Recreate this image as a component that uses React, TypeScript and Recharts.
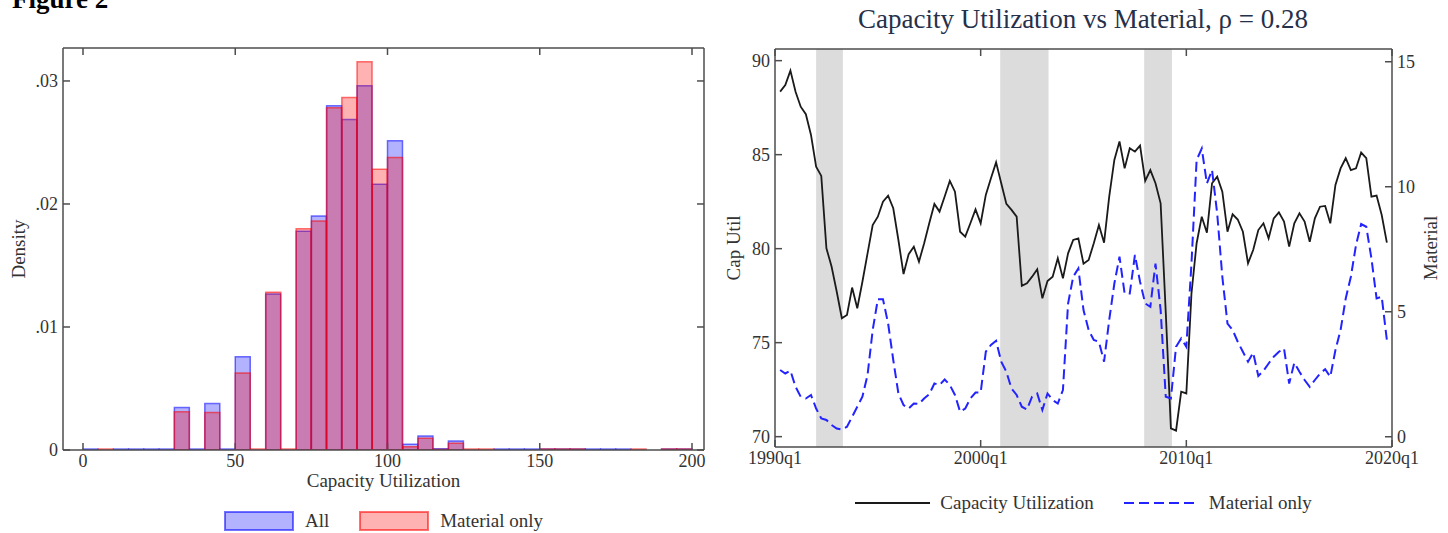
import React from 'react';
import {
  ComposedChart,
  Bar,
  Line,
  XAxis,
  YAxis,
  ReferenceArea,
  Legend,
} from 'recharts';

const FONT = '"Liberation Serif", "Times New Roman", serif';
const FRAME = '#4d4d4d';
const TEXT = '#333333';

// ---- left panel: histogram of capacity utilization (bins of width 5)
const binStart = [
  0, 5, 10, 15, 20, 25, 30, 35, 40, 45, 50, 55, 60, 65, 70, 75, 80, 85, 90, 95,
  100, 105, 110, 115, 120, 125, 130, 135, 140, 145, 150, 155, 160, 165, 170, 175, 180, 185, 190, 195,
];
const densityAll = [
  0.00008, 0, 0.00008, 0.00008, 0.00008, 0.00008, 0.00345, 0.00008, 0.00377, 0.00008,
  0.00758, 0, 0.01269, 0, 0.01779, 0.01902, 0.02798, 0.02687, 0.02961, 0.0216,
  0.02513, 0.00046, 0.00114, 0.0001, 0.00073, 0, 0, 0.00008, 0.00008, 0.00008,
  0.00008, 0.00008, 0.00008, 0.00008, 0.00008, 0.00008, 0, 0, 0.00008, 0.00008,
];
const densityMaterial = [
  0, 0.00008, 0, 0, 0, 0, 0.0031, 0, 0.00304, 0,
  0.00625, 0.00008, 0.01282, 0.00008, 0.01798, 0.01861, 0.02782, 0.02866, 0.03157, 0.02282,
  0.02377, 0.00027, 0.00095, 0.00005, 0.00055, 0.00008, 0.00008, 0, 0, 0,
  0.00008, 0.00008, 0.00008, 0, 0, 0, 0.00008, 0, 0.00008, 0.00008,
];
const densityTicks = [0, 0.01, 0.02, 0.03];
const utilTicks = [0, 50, 100, 150, 200];

// ---- right panel: quarterly series, 1990q2 .. 2019q4
const firstQuarter = 1990.25;
const capUtil = [
  88.35, 88.7, 89.47, 88.35, 87.55, 87.15, 86.05, 84.36, 83.87, 80.02,
  79.05, 77.72, 76.3, 76.47, 77.93, 76.83, 78.24, 79.75, 81.26, 81.7,
  82.5, 82.82, 82.15, 80.46, 78.65, 79.71, 80.1, 79.31, 80.28, 81.35,
  82.38, 81.97, 82.77, 83.6, 83.03, 80.9, 80.64, 81.35, 82.09, 81.35,
  82.86, 83.74, 84.59, 83.48, 82.38, 82.06, 81.7, 78.02, 78.16, 78.51,
  78.9, 77.36, 78.28, 78.51, 79.49, 78.42, 79.75, 80.46, 80.55, 79.2,
  79.4, 80.29, 81.26, 80.32, 82.77, 84.72, 85.7, 84.27, 85.34, 85.16,
  85.48, 83.6, 84.18, 83.48, 82.41, 76.6, 70.44, 70.32, 72.39, 72.3,
  77.62, 80.29, 81.7, 80.85, 83.48, 83.83, 83.03, 80.9, 81.83, 81.55,
  80.9, 79.22, 79.93, 80.99, 81.35, 80.55, 81.61, 81.93, 81.44, 80.11,
  81.35, 81.88, 81.44, 80.37, 81.61, 82.23, 82.27, 81.35, 83.39, 84.27,
  84.81, 84.18, 84.27, 85.11, 84.81, 82.77, 82.82, 81.79, 80.32,
];
const materialOnly = [
  2.67, 2.53, 2.64, 2.0, 1.6, 1.53, 1.67, 1.13, 0.73, 0.67,
  0.47, 0.33, 0.29, 0.4, 0.8, 1.2, 1.6, 2.47, 4.27, 5.5,
  5.5, 4.53, 3.07, 1.73, 1.27, 1.13, 1.33, 1.31, 1.53, 1.7,
  2.13, 2.07, 2.29, 2.07, 1.67, 1.0, 1.13, 1.53, 1.77, 1.77,
  3.4, 3.67, 3.84, 3.0, 2.6, 1.93, 1.67, 1.2, 1.09, 1.6,
  1.73, 1.07, 1.73, 1.47, 1.33, 1.87, 5.33, 6.4, 6.73, 5.07,
  4.27, 3.87, 3.8, 3.0, 4.67, 6.13, 7.2, 5.73, 5.73, 7.27,
  6.2, 5.33, 5.2, 6.93, 5.07, 1.6, 1.53, 3.6, 3.93, 3.6,
  6.93, 11.07, 11.53, 10.13, 10.67, 8.93, 6.4, 4.53, 4.27, 3.8,
  3.4, 3.0, 3.36, 2.43, 2.64, 2.93, 3.2, 3.4, 3.53, 2.13,
  2.96, 2.6, 2.27, 2.0, 2.27, 2.53, 2.7, 2.4, 3.47, 4.27,
  5.53, 6.4, 7.67, 8.51, 8.4, 7.13, 5.53, 5.6, 3.87,
];
const yearTicks = [1990, 2000, 2010, 2020];
const capTicks = [70, 75, 80, 85, 90];
const materialTicks = [0, 5, 10, 15];
const recessions = [
  [1992.0, 1993.3],
  [2000.95, 2003.3],
  [2007.95, 2009.3],
];

const histData = binStart.map((bin, i) => ({
  bin,
  all: densityAll[i],
  material: densityMaterial[i],
}));

const seriesData = capUtil.map((cu, i) => ({
  t: firstQuarter + i / 4,
  cu,
  material: materialOnly[i],
}));

const tickStyle = { fontSize: 18, fill: TEXT, fontFamily: FONT };
const labelStyle = { fontSize: 19, fill: TEXT, fontFamily: FONT };
const frameLine = { stroke: FRAME, strokeWidth: 1.5 };
// inner (mirrored) axes only draw their tick marks
const blankTick = () => <g />;

const fmtDensity = (v: number) => (v === 0 ? '0' : `.${Math.round(v * 100).toString().padStart(2, '0')}`);

const HistLegend = (props: any) => {
  const { payload = [] } = props;
  return (
    <div style={{ display: 'flex', justifyContent: 'center', alignItems: 'center', gap: 30, fontFamily: FONT, fontSize: 19, color: TEXT, height: 22 }}>
      {payload.map((p: any) => (
        <div key={p.value} style={{ display: 'flex', alignItems: 'center', gap: 11 }}>
          <svg width={70} height={20}>
            <rect x={1} y={1} width={68} height={18} fill={p.color} fillOpacity={0.3} stroke={p.color} strokeOpacity={0.55} strokeWidth={2} />
          </svg>
          <span>{p.value}</span>
        </div>
      ))}
    </div>
  );
};

const LineLegend = (props: any) => {
  const { payload = [] } = props;
  return (
    <div style={{ display: 'flex', justifyContent: 'center', alignItems: 'center', gap: 30, fontFamily: FONT, fontSize: 19, color: TEXT, height: 22 }}>
      {payload.map((p: any) => (
        <div key={p.value} style={{ display: 'flex', alignItems: 'center', gap: 10 }}>
          <svg width={75} height={10}>
            <line x1={0} y1={5} x2={75} y2={5} stroke={p.color} strokeWidth={2} strokeDasharray={p.payload?.strokeDasharray} />
          </svg>
          <span>{p.value}</span>
        </div>
      ))}
    </div>
  );
};

const HistogramPanel = () => {
  const pad = { left: 20, right: 12 };
  return (
    <ComposedChart width={720} height={533} data={histData} barCategoryGap={0} barGap={0}
      margin={{ top: 48, right: 16, bottom: 38, left: 0 }}>
      <XAxis xAxisId="util" dataKey="bin" type="number" domain={[0, 200]} ticks={utilTicks} allowDataOverflow
        padding={pad} height={45} tickLine={false} tickSize={0} tickMargin={4}
        axisLine={frameLine} tick={tickStyle}
        label={{ value: 'Capacity Utilization', position: 'insideBottom', offset: 8, ...labelStyle }} />
      <XAxis xAxisId="binA" dataKey="bin" type="category" hide height={0} padding={pad} />
      <XAxis xAxisId="binB" dataKey="bin" type="category" hide height={0} padding={pad} />
      <XAxis xAxisId="utilIn" dataKey="bin" type="number" domain={[0, 200]} ticks={utilTicks} allowDataOverflow
        padding={pad} mirror tick={blankTick} axisLine={false} tickSize={7} tickLine={frameLine} />
      <XAxis xAxisId="utilTop" orientation="top" dataKey="bin" type="number" domain={[0, 200]} ticks={utilTicks} allowDataOverflow
        padding={pad} mirror tick={blankTick} tickSize={7} axisLine={frameLine} tickLine={frameLine} />
      <YAxis yAxisId="d" domain={[0, 0.03268]} ticks={densityTicks} allowDataOverflow width={63}
        tickLine={false} tickSize={0} tickMargin={5} tickFormatter={fmtDensity} tick={tickStyle}
        axisLine={frameLine}
        label={{ value: 'Density', angle: -90, position: 'insideLeft', offset: 18, ...labelStyle, style: { textAnchor: 'middle' } }} />
      <YAxis yAxisId="dIn" dataKey="all" domain={[0, 0.03268]} ticks={densityTicks} allowDataOverflow mirror tick={blankTick}
        axisLine={false} tickSize={7} tickLine={frameLine} />
      <YAxis yAxisId="dRight" dataKey="all" orientation="right" domain={[0, 0.03268]} ticks={densityTicks} allowDataOverflow mirror tick={blankTick}
        tickSize={7} axisLine={frameLine} tickLine={frameLine} />
      <Bar xAxisId="binA" yAxisId="d" dataKey="all" name="All" fill="#0000ff" fillOpacity={0.3}
        stroke="#0000ff" strokeOpacity={0.55} strokeWidth={1.5} isAnimationActive={false} />
      <Bar xAxisId="binB" yAxisId="d" dataKey="material" name="Material only" fill="#ff0000" fillOpacity={0.3}
        stroke="#ff0000" strokeOpacity={0.55} strokeWidth={1.5} isAnimationActive={false} />
      <Legend layout="horizontal" verticalAlign="middle" align="center" content={<HistLegend />}
        wrapperStyle={{ left: 63, width: 641, top: 510 }} />
    </ComposedChart>
  );
};

const SeriesPanel = () => (
  <ComposedChart width={724} height={533} data={seriesData}
    margin={{ top: 49, right: 0, bottom: 46, left: 0 }}>
    <XAxis dataKey="t" type="number" domain={[1990, 2020]} ticks={yearTicks} allowDataOverflow height={40}
      tickLine={false} tickSize={0} tickMargin={4} tickFormatter={(v: number) => `${v}q1`} tick={tickStyle}
      axisLine={frameLine} />
    <XAxis xAxisId="tIn" dataKey="t" type="number" domain={[1990, 2020]} ticks={yearTicks} allowDataOverflow mirror
      tick={blankTick} axisLine={false} tickSize={7} tickLine={frameLine} />
    <XAxis xAxisId="tTop" orientation="top" dataKey="t" type="number" domain={[1990, 2020]} ticks={yearTicks} allowDataOverflow mirror
      tick={blankTick} tickSize={7} axisLine={frameLine} tickLine={frameLine} />
    <YAxis yAxisId="cu" domain={[69.45, 90.62]} ticks={capTicks} allowDataOverflow width={51}
      tickLine={false} tickSize={0} tickMargin={5} tick={tickStyle} axisLine={frameLine}
      label={{ value: 'Cap Util', angle: -90, position: 'insideLeft', offset: 9, ...labelStyle, style: { textAnchor: 'middle' } }} />
    <YAxis yAxisId="cuIn" dataKey="cu" domain={[69.45, 90.62]} ticks={capTicks} allowDataOverflow mirror tick={blankTick}
      axisLine={false} tickSize={7} tickLine={frameLine} />
    <YAxis yAxisId="mat" orientation="right" domain={[-0.41, 15.51]} ticks={materialTicks} allowDataOverflow width={56}
      tickLine={false} tickSize={0} tickMargin={5} tick={tickStyle} axisLine={frameLine}
      label={{ value: 'Material', angle: -90, position: 'insideRight', offset: 17.5, ...labelStyle, style: { textAnchor: 'middle' } }} />
    <YAxis yAxisId="matIn" dataKey="material" orientation="right" domain={[-0.41, 15.51]} ticks={materialTicks} allowDataOverflow mirror tick={blankTick}
      axisLine={false} tickSize={7} tickLine={frameLine} />
    {recessions.map(([a, b]) => (
      <ReferenceArea key={a} yAxisId="cu" x1={a} x2={b} fill="#dcdcdc" fillOpacity={1} stroke="none" />
    ))}
    <Line yAxisId="cu" dataKey="cu" name="Capacity Utilization" stroke="#1a1a1a" strokeWidth={1.8}
      dot={false} type="linear" isAnimationActive={false} />
    <Line yAxisId="mat" dataKey="material" name="Material only" stroke="#2323ff" strokeWidth={2}
      strokeDasharray="10 5" dot={false} type="linear" isAnimationActive={false} />
    <Legend layout="horizontal" verticalAlign="middle" align="center" content={<LineLegend />}
      wrapperStyle={{ left: 51, width: 617, top: 492 }} />
  </ComposedChart>
);

export default function App() {
  return (
    <div style={{ position: 'absolute', left: 0, top: 0, width: 1448, height: 533, background: '#fff', overflow: 'hidden' }}>
      <svg width={1448} height={60} style={{ position: 'absolute', left: 0, top: 0 }}>
        <text x={12} y={7.5} fontFamily={FONT} fontWeight="bold" fontSize={27} fill="#000">Figure 2</text>
        <text x={1083} y={28} textAnchor="middle" fontFamily={FONT} fontSize={27} fill="#26304a">
          Capacity Utilization vs Material, ρ = 0.28
        </text>
      </svg>
      <div style={{ position: 'absolute', left: 0, top: 0 }}>
        <HistogramPanel />
      </div>
      <div style={{ position: 'absolute', left: 724, top: 0 }}>
        <SeriesPanel />
      </div>
    </div>
  );
}
